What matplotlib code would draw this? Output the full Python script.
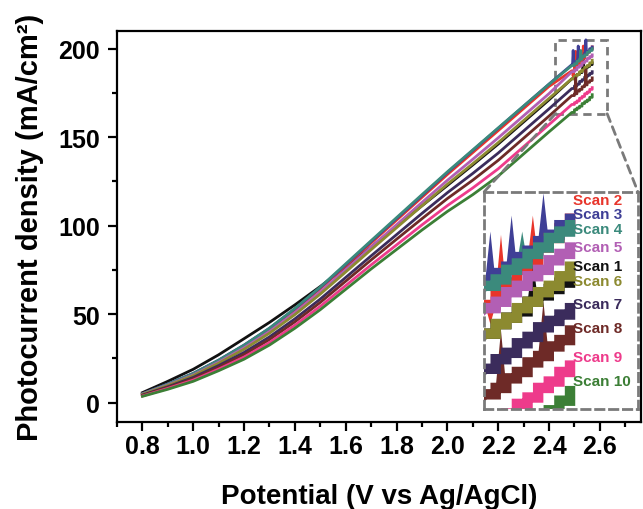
import numpy as np
import matplotlib
matplotlib.use('Agg')
import matplotlib.pyplot as plt
from matplotlib.patches import Rectangle, ConnectionPatch

plt.rcParams['font.family'] = ['Liberation Sans', 'DejaVu Sans']
plt.rcParams['font.weight'] = 'bold'

# potential grid (V vs Ag/AgCl)
potential = [0.8, 0.9, 1.0, 1.1, 1.2, 1.3, 1.4, 1.5, 1.6, 1.7,
             1.8, 1.9, 2.0, 2.1, 2.2, 2.3, 2.4]
# fine steps at the end of the sweep (shown in the zoom inset)
tail_potential = [2.49, 2.50, 2.51, 2.52, 2.53, 2.54, 2.55, 2.56, 2.57]

scan1 = [5.6, 12.0, 18.8, 27.0, 36.1, 45.3, 55.2, 65.6, 76.6, 87.9,
         99.6, 111.2, 122.7, 134.3, 146.1, 158.6, 171.1]
scan2 = [4.9, 10.3, 16.3, 23.7, 32.1, 41.5, 52.4, 64.4, 77.3, 90.2,
         103.1, 116.0, 128.9, 141.3, 153.7, 166.2, 178.7]
scan3 = [5.0, 10.5, 16.5, 24.0, 32.5, 42.0, 53.0, 65.0, 78.0, 91.0,
         104.0, 117.0, 130.0, 142.5, 155.0, 167.5, 180.0]
scan4 = [4.9, 10.4, 16.4, 23.9, 32.4, 42.0, 53.2, 65.3, 78.4, 91.5,
         104.5, 117.5, 130.4, 142.8, 155.2, 167.6, 179.9]
scan5 = [4.7, 9.9, 15.6, 22.8, 30.9, 40.1, 50.8, 62.5, 75.2, 87.9,
         100.5, 113.1, 125.6, 137.5, 149.6, 162.1, 174.6]
scan6 = [4.6, 9.6, 15.2, 22.2, 30.1, 39.2, 49.7, 61.3, 73.8, 86.4,
         98.8, 111.2, 123.4, 135.0, 146.9, 159.4, 171.9]
scan7 = [4.2, 8.9, 14.2, 20.9, 28.3, 37.1, 47.3, 58.5, 70.7, 82.9,
         94.9, 106.9, 118.6, 129.5, 141.0, 153.5, 166.0]
scan8 = [4.0, 8.5, 13.5, 20.0, 27.1, 35.6, 45.6, 56.6, 68.6, 80.6,
         92.3, 103.9, 115.3, 125.7, 136.9, 149.4, 161.9]
scan9 = [3.7, 8.0, 12.7, 18.9, 25.7, 33.9, 43.7, 54.4, 66.1, 77.8,
         89.1, 100.4, 111.3, 121.3, 132.1, 144.6, 157.1]
scan10 = [3.5, 7.5, 12.0, 18.0, 24.5, 32.5, 42.0, 52.5, 64.0, 75.5,
          86.5, 97.5, 108.0, 117.5, 128.0, 140.5, 153.0]

tail1 = [183.0, 184.5, 185.5, 186.5, 188.0, 189.0, 190.0, 191.0, 192.0]
tail2 = [187.5, 189.5, 191.0, 193.0, 194.5, 196.5, 198.0, 199.5, 201.0]
tail3 = [191.0, 192.5, 193.5, 195.0, 196.0, 197.5, 198.5, 200.0, 201.0]
tail4 = [190.5, 191.5, 193.0, 194.0, 195.5, 196.5, 198.0, 199.0, 200.0]
tail5 = [187.0, 188.0, 189.5, 190.5, 192.0, 193.0, 194.5, 195.5, 196.5]
tail6 = [183.0, 184.5, 185.5, 187.0, 188.0, 189.5, 190.5, 192.0, 193.5]
tail7 = [177.5, 179.0, 180.0, 181.5, 182.5, 184.0, 185.0, 186.0, 187.0]
tail8 = [173.5, 174.5, 176.0, 177.0, 178.5, 179.5, 181.0, 182.0, 183.5]
tail9 = [168.5, 169.5, 170.5, 172.0, 173.0, 174.5, 175.5, 177.0, 178.0]
tail10 = [164.0, 165.5, 166.5, 167.5, 169.0, 170.0, 171.0, 172.5, 174.0]

# noise spikes (potential, current) seen in the inset
spikes1 = [(2.535, 194.5)]
spikes2 = [(2.495, 184.5), (2.505, 198.5), (2.535, 201.5)]
spikes3 = [(2.495, 199.0), (2.515, 201.5), (2.545, 205.0)]
spikes4 = [(2.525, 199.0)]
spikes8 = [(2.505, 183.5), (2.545, 188.0)]

scan_names = ['Scan 1', 'Scan 2', 'Scan 3', 'Scan 4', 'Scan 5',
              'Scan 6', 'Scan 7', 'Scan 8', 'Scan 9', 'Scan 10']
colors = ['#111111', '#e8352b', '#3f3f96', '#3b8a7c', '#b25fb4',
          '#8c8a30', '#3b2c5c', '#6e2a27', '#ee3b8b', '#3c7f36']
mains = [scan1, scan2, scan3, scan4, scan5, scan6, scan7, scan8, scan9, scan10]
tails = [tail1, tail2, tail3, tail4, tail5, tail6, tail7, tail8, tail9, tail10]
spikes = [spikes1, spikes2, spikes3, spikes4, [], [], [], spikes8, [], []]

# legend order in the inset, top to bottom
legend_order = ['Scan 2', 'Scan 3', 'Scan 4', 'Scan 5', 'Scan 1',
                'Scan 6', 'Scan 7', 'Scan 8', 'Scan 9', 'Scan 10']
legend_y = [0.962, 0.899, 0.829, 0.747, 0.659, 0.590, 0.484, 0.373, 0.240, 0.129]

HALF = 0.0025  # half width of a noise spike (V)


def staircase(tail_j):
    xs, ys = [], []
    for i, (v, j) in enumerate(zip(tail_potential, tail_j)):
        xs.append(v)
        ys.append(j)
        if i + 1 < len(tail_potential):
            xs.append(tail_potential[i + 1])
            ys.append(j)
    return xs, ys


def spike_level(tail_j, vs):
    k = np.searchsorted(tail_potential, vs) - 1
    return tail_j[k]


def build_curve(main_j, tail_j, spike_list):
    xs, ys = staircase(tail_j)
    pts = list(zip(xs, ys))
    for vs, peak in spike_list:
        lv = spike_level(tail_j, vs)
        pts += [(vs - HALF, lv), (vs, peak), (vs + HALF, lv)]
    pts = sorted(pts, key=lambda p: p[0])
    x = list(potential) + [p[0] for p in pts]
    y = list(main_j) + [p[1] for p in pts]
    return np.array(x), np.array(y)


W, H = 643, 510
fig = plt.figure(figsize=(W / 100, H / 100), dpi=100)
ax = fig.add_axes([117 / W, 87 / H, (640.5 - 117) / W, (478 - 87) / H])

for m, t, s, c in zip(mains, tails, spikes, colors):
    x, y = build_curve(m, t, s)
    ax.plot(x, y, color=c, lw=2.0)

ax.set_xlim(0.7, 2.76)
ax.set_ylim(-11, 210)
ax.set_xticks(np.arange(0.8, 2.61, 0.2))
ax.set_xticks(np.arange(0.7, 2.71, 0.1), minor=True)
ax.set_yticks([0, 50, 100, 150, 200])
ax.set_yticks([25, 75, 125, 175], minor=True)
ax.xaxis.set_major_formatter(matplotlib.ticker.FormatStrFormatter('%.1f'))
ax.tick_params(which='major', length=6.5, width=1.6, labelsize=18, pad=2)
ax.tick_params(which='minor', length=3.5, width=1.6)
ax.tick_params(axis='y', which='major', pad=6)
for sp in ax.spines.values():
    sp.set_linewidth(1.6)
ax.set_xlabel('Potential (V vs Ag/AgCl)', fontsize=20, fontweight='bold', labelpad=18)
ax.set_ylabel('Photocurrent density (mA/cm²)', fontsize=21, fontweight='bold', labelpad=10)

# zoom window on the main plot
gray = '#7a7a7a'
dash = (0, (3, 2))
x0, x1, y0, y1 = 2.425, 2.629, 163.2, 205.1
ax.add_patch(Rectangle((x0, y0), x1 - x0, y1 - y0, fill=False, ec=gray, lw=2, ls=dash))

axin = fig.add_axes([484 / W, 100 / H, 154 / W, 217 / H])
for m, t, s, c in zip(mains, tails, spikes, colors):
    xs, ys = staircase(t)
    axin.plot(list(potential) + xs, list(m) + ys, color=c, lw=7.5,
              solid_joinstyle='miter')
    for vs, peak in s:
        lv = spike_level(t, vs)
        axin.fill([vs - 2 * HALF, vs, vs + 2 * HALF], [lv, peak, lv],
                  color=c, lw=0)
axin.set_xlim(2.489, 2.634)
axin.set_ylim(171.2, 205.2)
axin.set_xticks([])
axin.set_yticks([])
for sp in axin.spines.values():
    sp.set_linestyle(dash)
    sp.set_color(gray)
    sp.set_linewidth(2)

for name, yf in zip(legend_order, legend_y):
    c = colors[scan_names.index(name)]
    axin.text(0.575, yf, name, transform=axin.transAxes, color=c,
              fontsize=11, fontweight='bold', va='center', ha='left')

for xa, xb in [(x0, 0), (x1, 1)]:
    con = ConnectionPatch(xyA=(xa, y0), coordsA=ax.transData,
                          xyB=(xb, 1), coordsB=axin.transAxes,
                          color=gray, lw=2, ls=dash)
    fig.add_artist(con)

fig.savefig('out.png', dpi=100)
